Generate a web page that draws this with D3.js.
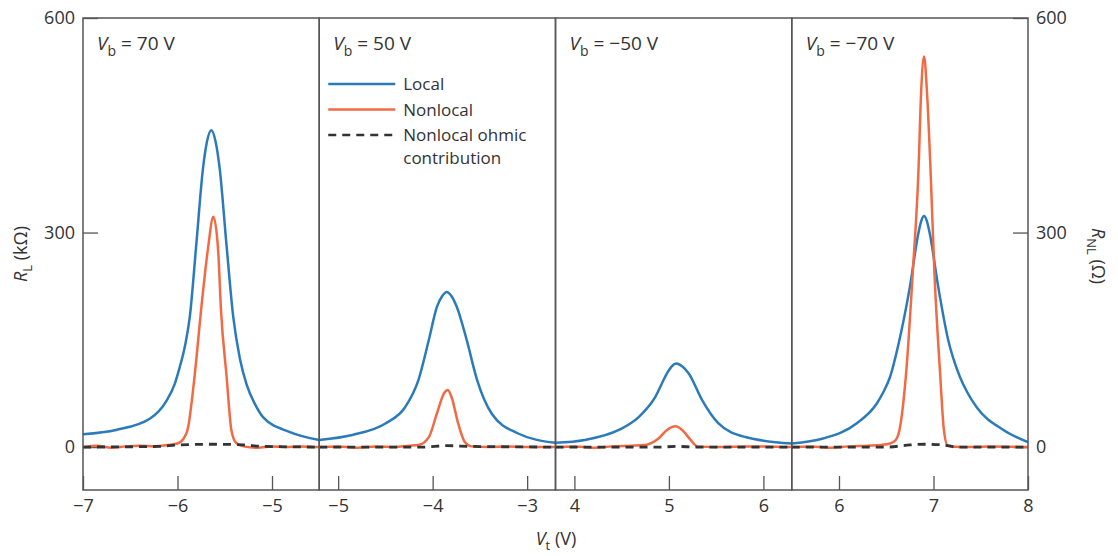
<!DOCTYPE html>
<html>
<head>
<meta charset="utf-8">
<script src="https://cdn.jsdelivr.net/npm/d3@7"></script>
<style>
  body { margin: 0; background: #fff; }
  svg text { font-family: "Open Sans", "Noto Sans", sans-serif; fill: #333; }
</style>
</head>
<body>
<div id="chart"></div>
<script>
// values
// each panel: x domain (Vt in V), label, tick values
var panelDomains = [[-7, -4.5], [-5.2, -2.7], [3.8, 6.3], [5.5, 8]];
var panelLabels = ["= 70 V", "= 50 V", "= \u221250 V", "= \u221270 V"];
var panelTicks = [[-7, -6, -5], [-5, -4, -3], [4, 5, 6], [6, 7, 8]];
var yTicks = [0, 300, 600];

// local resistance R_L (kOhm), [Vt, R]
var localP1 = [[-7,18],[-6.65,24],[-6.29,40],[-6.12,64],[-6.03,88],[-5.98,110],[-5.92,142],[-5.87,182],[-5.80,285],[-5.73,390],[-5.69,426],[-5.642,443],[-5.595,426],[-5.554,390],[-5.483,285],[-5.41,182],[-5.34,124],[-5.27,88],[-5.18,60],[-5.095,42],[-4.81,21],[-4.5,10]];
var localP2 = [[-5.2,10],[-4.85,17],[-4.5,33],[-4.29,56],[-4.15,94],[-4.04,150],[-3.955,196],[-3.90,211],[-3.85,217],[-3.80,211],[-3.744,196],[-3.64,150],[-3.53,94],[-3.376,47],[-3.095,19],[-2.7,6]];
var localP3 = [[3.8,6],[4.11,10],[4.47,24],[4.68,42],[4.855,70],[4.98,103],[5.03,113],[5.08,117],[5.14,113],[5.21,103],[5.35,66],[5.525,33],[5.81,14],[6.3,5]];
var localP4 = [[5.5,5],[5.83,12],[6.185,33],[6.40,61],[6.47,77],[6.54,98],[6.64,150],[6.75,224],[6.84,299],[6.87,316],[6.90,323],[6.93,316],[6.96,299],[7.05,224],[7.155,150],[7.28,98],[7.36,76],[7.455,56],[7.74,24],[8.0,7]];

// nonlocal resistance R_NL (Ohm)
var nonlocalP1 = [[-7,0],[-6.85,2],[-6.7,-1],[-6.55,1],[-6.4,2],[-6.25,1],[-6.1,3],[-6.0,5],[-5.94,11],[-5.89,26],[-5.82,98],[-5.75,192],[-5.68,275],[-5.62,322],[-5.57,275],[-5.54,192],[-5.48,98],[-5.43,24],[-5.38,6],[-5.3,1],[-5.15,-1],[-5.0,1],[-4.85,0],[-4.7,1],[-4.5,0]];
var nonlocalP2 = [[-5.2,0],[-5.0,1],[-4.8,-1],[-4.6,1],[-4.4,0],[-4.25,2],[-4.15,3],[-4.04,14],[-3.955,47],[-3.88,75],[-3.84,80],[-3.80,70],[-3.73,33],[-3.66,7],[-3.59,1],[-3.4,0],[-3.2,1],[-3.0,0],[-2.7,0]];
var nonlocalP3 = [[3.8,0],[4.0,1],[4.2,-1],[4.4,1],[4.6,2],[4.75,3],[4.89,12],[4.98,24],[5.07,29],[5.14,24],[5.23,10],[5.30,1],[5.5,0],[5.8,1],[6.3,0]];
var nonlocalP4 = [[5.5,0],[5.7,1],[5.9,-1],[6.1,1],[6.3,2],[6.45,3],[6.54,5],[6.6,10],[6.64,24],[6.71,103],[6.78,243],[6.84,383],[6.87,499],[6.90,546],[6.93,499],[6.97,383],[7.01,243],[7.07,103],[7.11,24],[7.15,2],[7.3,0],[7.6,1],[8.0,0]];

// nonlocal ohmic contribution (Ohm)
var ohmicP1 = [[-7,0],[-6.2,1],[-6.0,3],[-5.6,4],[-5.3,3],[-5.1,1],[-4.5,0]];
var ohmicP2 = [[-5.2,0],[-4.1,0],[-3.85,2],[-3.6,1],[-2.7,0]];
var ohmicP3 = [[3.8,0],[4.9,0],[5.08,1],[5.3,0],[6.3,0]];
var ohmicP4 = [[5.5,0],[6.5,0],[6.75,3],[6.9,4],[7.1,3],[7.25,0],[8,0]];

var localData = [localP1, localP2, localP3, localP4];
var nonlocalData = [nonlocalP1, nonlocalP2, nonlocalP3, nonlocalP4];
var ohmicData = [ohmicP1, ohmicP2, ohmicP3, ohmicP4];

var blue = "#2b7bba", orange = "#f26a43", dark = "#333";

var svgWidth = 1118, svgHeight = 556;
var margins = {top: 18, bottom: 66, left: 83, right: 90};
var plotW = svgWidth - margins.left - margins.right;
var plotBottom = svgHeight - margins.bottom;
var panelW = plotW / 4;

var svg = d3.select("#chart").append("svg")
    .attr("width", svgWidth)
    .attr("height", svgHeight);

var yScale = d3.scaleLinear()
    .domain([-60, 600])
    .range([plotBottom, margins.top]);

var minusFmt = d => String(d).replace("-", "\u2212");

// left and right y axes
var yLeft = svg.append("g")
    .attr("transform", `translate(${margins.left},0)`)
    .call(d3.axisLeft(yScale).tickValues(yTicks).tickSizeInner(-15).tickSizeOuter(0).tickPadding(8));
var yRight = svg.append("g")
    .attr("transform", `translate(${margins.left + plotW},0)`)
    .call(d3.axisRight(yScale).tickValues(yTicks).tickSizeInner(-15).tickSizeOuter(0).tickPadding(8));
[yLeft, yRight].forEach(g => {
    g.select(".domain").remove();
    g.selectAll(".tick line").attr("stroke", "#555").attr("stroke-width", 1.3);
    g.selectAll(".tick text").style("font-size", "18px").style("fill", "#333");
});

var line = d3.line().curve(d3.curveMonotoneX);

panelDomains.forEach((dom, i) => {
    var x0 = margins.left + i * panelW;
    var xScale = d3.scaleLinear().domain(dom).range([x0, x0 + panelW]);

    var clipId = "clip" + i;
    svg.append("clipPath").attr("id", clipId)
        .append("rect")
        .attr("x", x0).attr("y", margins.top)
        .attr("width", panelW).attr("height", plotBottom - margins.top);

    var xAxis = svg.append("g")
        .attr("transform", `translate(0,${plotBottom})`)
        .call(d3.axisBottom(xScale).tickValues(panelTicks[i]).tickSizeInner(-14).tickSizeOuter(0).tickPadding(9).tickFormat(minusFmt));
    xAxis.select(".domain").remove();
    xAxis.selectAll(".tick line").attr("stroke", "#555").attr("stroke-width", 1.3);
    xAxis.selectAll(".tick text").style("font-size", "18px").style("fill", "#333");

    line.x(d => xScale(d[0])).y(d => yScale(d[1]));

    var g = svg.append("g").attr("clip-path", `url(#${clipId})`);
    g.append("path").datum(localData[i])
        .attr("d", line).attr("fill", "none")
        .attr("stroke", blue).attr("stroke-width", 2.5);
    g.append("path").datum(nonlocalData[i])
        .attr("d", line).attr("fill", "none")
        .attr("stroke", orange).attr("stroke-width", 2.5);
    g.append("path").datum(ohmicData[i])
        .attr("d", line).attr("fill", "none")
        .attr("stroke", dark).attr("stroke-width", 2.8)
        .attr("stroke-dasharray", "8,6");

    // panel label, V_b = ...
    var lab = svg.append("text")
        .attr("x", x0 + 14).attr("y", 50)
        .style("font-size", "19px");
    lab.append("tspan").style("font-style", "italic").text("V");
    lab.append("tspan").attr("dy", 6).style("font-size", "14px").text("b");
    lab.append("tspan").attr("dy", -6).text(" " + panelLabels[i]);

    // panel frame
    svg.append("rect")
        .attr("x", x0).attr("y", margins.top)
        .attr("width", panelW).attr("height", plotBottom - margins.top)
        .attr("fill", "none").attr("stroke", "#555").attr("stroke-width", 1.5);
});

// legend inside second panel
var legendItems = [
    {label: ["Local"], color: blue, dash: null},
    {label: ["Nonlocal"], color: orange, dash: null},
    {label: ["Nonlocal ohmic", "contribution"], color: dark, dash: "8,6"}
];
var lx = margins.left + panelW + 9;
legendItems.forEach((d, k) => {
    var ly = 84 + k * 25.5;
    svg.append("line")
        .attr("x1", lx).attr("x2", lx + 67)
        .attr("y1", ly).attr("y2", ly)
        .attr("stroke", d.color).attr("stroke-width", 2.5)
        .attr("stroke-dasharray", d.dash);
    d.label.forEach((s, j) => {
        svg.append("text")
            .attr("x", lx + 75).attr("y", ly + 6 + j * 23)
            .style("font-size", "17px")
            .text(s);
    });
});

// axis titles
var yl = svg.append("text")
    .attr("transform", "translate(27,254) rotate(-90)")
    .style("text-anchor", "middle")
    .style("font-size", "18px");
yl.append("tspan").style("font-style", "italic").text("R");
yl.append("tspan").attr("dy", 5).style("font-size", "13px").text("L");
yl.append("tspan").attr("dy", -5).text(" (k\u03A9)");

var yr = svg.append("text")
    .attr("transform", "translate(1092,256) rotate(90)")
    .style("text-anchor", "middle")
    .style("font-size", "18px");
yr.append("tspan").style("font-style", "italic").text("R");
yr.append("tspan").attr("dy", 5).style("font-size", "13px").text("NL");
yr.append("tspan").attr("dy", -5).text(" (\u03A9)");

var xl = svg.append("text")
    .attr("x", 556).attr("y", 545)
    .style("text-anchor", "middle")
    .style("font-size", "18px");
xl.append("tspan").style("font-style", "italic").text("V");
xl.append("tspan").attr("dy", 5).style("font-size", "13px").text("t");
xl.append("tspan").attr("dy", -5).text(" (V)");
</script>
</body>
</html>
